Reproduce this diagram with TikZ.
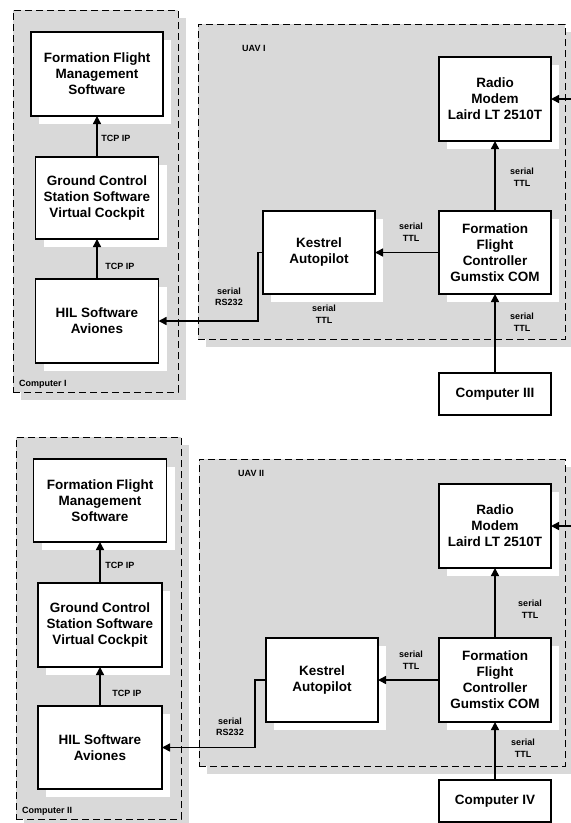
\documentclass[tikz,border=0pt]{standalone}
\usepackage{fontspec}
\setmainfont{Liberation Sans}
\usetikzlibrary{arrows.meta,shadows}
\definecolor{panelgray}{RGB}{217,217,217}
\tikzset{
	block/.style={draw, line width=1.5pt, fill=white, align=center, inner sep=2pt, outer sep=0pt,
		font=\bfseries\fontsize{13.5}{16}\selectfont,
		drop shadow={shadow xshift=8pt, shadow yshift=-8pt, fill=white, opacity=1}},
	panel/.style={draw, dash pattern=on 7pt off 4pt, line width=0.9pt, fill=panelgray,
		anchor=north west, inner sep=0pt, outer sep=0pt,
		drop shadow={shadow xshift=8pt, shadow yshift=-8pt, fill=panelgray, opacity=1}},
	tag/.style={align=center, inner sep=0pt, font=\bfseries\fontsize{9}{11.5}\selectfont},
	link/.style={line width=1.5pt, -{Triangle[length=8pt, width=8pt]}}
}
\begin{document}
\begin{tikzpicture}[x=1pt, y=-1pt]
		\useasboundingbox (0, 0) rectangle (571, 823);
		% first half
		\node[panel, minimum width=165pt, minimum height=382pt] (pc1) at (13, 10) {};
		\node[panel, minimum width=367pt, minimum height=315pt] (uav1) at (198, 24) {};
		\node[tag, anchor=west] (pc1name) at (19, 384) {Computer I};
		\node[tag, anchor=west] (uav1name) at (242, 48) {UAV I};
		\node[block, minimum width=132pt, minimum height=84pt] (ffms1) at (97, 74) {Formation Flight\\Management\\Software};
		\node[block, minimum width=123pt, minimum height=82pt] (gcs1) at (97, 198) {Ground Control\\Station Software\\Virtual Cockpit};
		\node[block, minimum width=123pt, minimum height=84pt] (hil1) at (97, 321) {HIL Software\\Aviones};
		\node[block, minimum width=112pt, minimum height=84pt] (modem1) at (495, 99) {Radio\\Modem\\Laird LT 2510T};
		\node[block, minimum width=112pt, minimum height=83pt] (ffc1) at (495, 252.5) {Formation\\Flight\\Controller\\Gumstix COM};
		\node[block, minimum width=112pt, minimum height=83pt] (kestrel1) at (319, 252.5) {Kestrel\\Autopilot};
		\node[block, minimum width=112pt, minimum height=42pt] (comp3) at (495, 394) {Computer III};
		\coordinate (radio1) at (571, 99);
		\draw[link] (gcs1) -- (ffms1);
		\draw[link] (hil1) -- (gcs1);
		\draw[link] (ffc1) -- (modem1);
		\draw[link] (ffc1) -- (kestrel1);
		\draw[link] (comp3) -- (ffc1);
		\draw[link] (radio1) -- (modem1.east);
		\draw[link] (kestrel1.west) -- ++(-5, 0) |- (hil1.east);
		\node[tag] (tcp1a) at (116, 138) {TCP IP};
		\node[tag] (tcp1b) at (120, 266) {TCP IP};
		\node[tag] (ttl1a) at (522, 177) {serial\\TTL};
		\node[tag] (ttl1b) at (411, 232) {serial\\TTL};
		\node[tag] (ttl1c) at (324, 314) {serial\\TTL};
		\node[tag] (ttl1d) at (522, 322) {serial\\TTL};
		\node[tag] (rs1) at (229, 297) {serial\\RS232};
		% second half
		\node[panel, minimum width=165pt, minimum height=382pt] (pc2) at (16, 437) {};
		\node[panel, minimum width=366pt, minimum height=307pt] (uav2) at (199, 459) {};
		\node[tag, anchor=west] (pc2name) at (22, 811) {Computer II};
		\node[tag, anchor=west] (uav2name) at (238, 473) {UAV II};
		\node[block, minimum width=133pt, minimum height=83pt] (ffms2) at (100, 500.5) {Formation Flight\\Management\\Software};
		\node[block, minimum width=124pt, minimum height=84pt] (gcs2) at (100, 625) {Ground Control\\Station Software\\Virtual Cockpit};
		\node[block, minimum width=124pt, minimum height=83pt] (hil2) at (100, 747.5) {HIL Software\\Aviones};
		\node[block, minimum width=112pt, minimum height=84pt] (modem2) at (495, 526) {Radio\\Modem\\Laird LT 2510T};
		\node[block, minimum width=112pt, minimum height=84pt] (ffc2) at (495, 680) {Formation\\Flight\\Controller\\Gumstix COM};
		\node[block, minimum width=112pt, minimum height=84pt] (kestrel2) at (322, 680) {Kestrel\\Autopilot};
		\node[block, minimum width=112pt, minimum height=42pt] (comp4) at (495, 801) {Computer IV};
		\coordinate (radio2) at (571, 526);
		\draw[link] (gcs2) -- (ffms2);
		\draw[link] (hil2) -- (gcs2);
		\draw[link] (ffc2) -- (modem2);
		\draw[link] (ffc2) -- (kestrel2);
		\draw[link] (comp4) -- (ffc2);
		\draw[link] (radio2) -- (modem2.east);
		\draw[link] (kestrel2.west) -- ++(-11, 0) |- (hil2.east);
		\node[tag] (tcp2a) at (120, 565) {TCP IP};
		\node[tag] (tcp2b) at (127, 693) {TCP IP};
		\node[tag] (ttl2a) at (530, 609) {serial\\TTL};
		\node[tag] (ttl2b) at (411, 660) {serial\\TTL};
		\node[tag] (ttl2d) at (523, 748) {serial\\TTL};
		\node[tag] (rs2) at (230, 727) {serial\\RS232};
	\end{tikzpicture}
\end{document}
